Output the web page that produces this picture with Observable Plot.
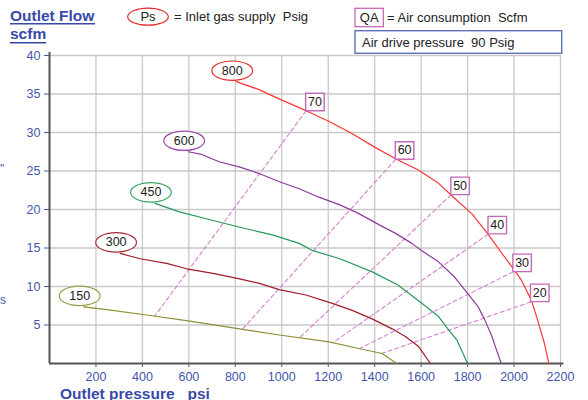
<!DOCTYPE html>
<html><head><meta charset="utf-8">
<script src="https://cdn.jsdelivr.net/npm/d3@7"></script>
<script src="https://cdn.jsdelivr.net/npm/@observablehq/plot@0.6"></script>
<style>body{margin:0;background:#fff}#chart{width:588px;height:400px}</style>
</head><body><div id="chart"></div>
<script>
// ---- data ----
const pressures = [150, 300, 450, 600, 800]; // inlet gas supply Ps, psig
const curve150 = [[147,7.35],[247,7.0],[418,6.3],[604,5.5],[818,4.5],[989,3.7],[1204,2.8],[1332,1.95],[1432,1.3],[1495,0]];
const curve300 = [[304,14.3],[390,13.6],[504,13.0],[590,12.3],[704,11.7],[818,11.0],[904,10.4],[989,9.6],[1104,8.9],[1218,7.8],[1303,6.9],[1389,5.8],[1475,4.5],[1532,3.5],[1589,2.2],[1640,0]];
const curve450 = [[454,20.8],[560,19.7],[675,18.8],[820,17.7],[960,16.7],[1075,15.6],[1130,14.7],[1250,13.6],[1390,11.9],[1500,10.2],[1600,7.9],[1675,6.1],[1720,4.3],[1755,3.0],[1800,0]];
const curve600 = [[597,27.5],[650,27.2],[730,26.2],[820,25.5],[900,24.7],[990,23.6],[1075,22.7],[1160,21.6],[1250,20.6],[1330,19.5],[1420,18.0],[1490,16.9],[1560,15.6],[1600,14.7],[1675,13.2],[1745,11.2],[1800,9.1],[1845,7.4],[1875,5.6],[1905,3.5],[1925,1.7],[1945,0]];
const curve800 = [[804,36.6],[900,35.6],[1000,34.2],[1100,32.9],[1200,31.5],[1300,29.9],[1400,28.1],[1490,26.6],[1590,25.1],[1675,23.4],[1750,21.3],[1820,19.4],[1890,16.7],[1960,13.8],[2000,12.2],[2030,10.9],[2075,8.2],[2100,5.8],[2130,2.7],[2150,0]];
const qaValues = [70, 60, 50, 40, 30, 20]; // air consumption QA, scfm
const qa70 = [[1104,32.8],[454,6.2]];
const qa60 = [[1490,26.5],[832,4.5]];
const qa50 = [[1729,21.9],[1075,3.3]];
const qa40 = [[1889,16.8],[1220,2.7]];
const qa30 = [[1996,11.9],[1335,1.95]];
const qa20 = [[2072,8.0],[1430,1.3]];
const xTicks = [200,400,600,800,1000,1200,1400,1600,1800,2000,2200];
const yTicks = [5,10,15,20,25,30,35,40];

// ---- tables ----
const curves = [curve150, curve300, curve450, curve600, curve800];
const curveRows = curves.flatMap((c, i) => c.map(([x, y]) => ({ps: pressures[i], x, y})));
const curveStarts = curves.map((c, i) => ({ps: pressures[i], x: c[0][0], y: c[0][1]}));
const qaLines = [qa70, qa60, qa50, qa40, qa30, qa20];
const qaRows = qaLines.flatMap((c, i) => c.map(([x, y]) => ({qa: qaValues[i], x, y})));
const qaStarts = qaLines.map((c, i) => ({qa: qaValues[i], x: c[0][0], y: c[0][1]}));

// ---- styles ----
const lineColors = ["#8f8f36", "#a01c28", "#25995a", "#8e3a9e", "#ff3535"];
const ringColors = ["#9a9a48", "#a52a36", "#3aa568", "#9a4aaa", "#e82828"];
const blue = "#4455aa";
const titleBlue = "#3949a8";
const font = "'Liberation Sans', Arial, sans-serif";

const ellipseSym = {draw(ctx, size) {
  const r = Math.sqrt(size / Math.PI), rx = r * 2.1, ry = r, k = 0.5523;
  ctx.moveTo(rx, 0);
  ctx.bezierCurveTo(rx, ry * k, rx * k, ry, 0, ry);
  ctx.bezierCurveTo(-rx * k, ry, -rx, ry * k, -rx, 0);
  ctx.bezierCurveTo(-rx, -ry * k, -rx * k, -ry, 0, -ry);
  ctx.bezierCurveTo(rx * k, -ry, rx, -ry * k, rx, 0);
  ctx.closePath();
}};
const boxSym = {draw(ctx, size) {
  ctx.rect(-9.25, -8.75, 18.5, 17.5);
}};

const plot = Plot.plot({
  width: 588, height: 400,
  marginLeft: 49, marginRight: 28, marginTop: 55, marginBottom: 37,
  style: {fontFamily: font, background: "#fff"},
  x: {domain: [0, 2200]},
  y: {domain: [0, 40]},
  color: {domain: pressures, range: lineColors},
  marks: [
    Plot.gridX(xTicks, {stroke: "#c9c9c9", strokeOpacity: 1, strokeWidth: 1.3}),
    Plot.gridY(yTicks, {stroke: "#c9c9c9", strokeOpacity: 1, strokeWidth: 1.3}),
    Plot.axisX(xTicks, {tickSize: 4, tickPadding: 5, color: blue, fontSize: 12.5, label: null, tickFormat: (d) => String(d)}),
    Plot.axisY(yTicks, {tickSize: 5, tickPadding: 4, color: blue, fontSize: 12.5, label: null, tickFormat: (d) => String(d)}),
    Plot.ruleX([0], {y1: 0, y2: 40.4, stroke: "#555", strokeWidth: 2}),
    Plot.ruleY([0], {x1: 0, x2: 2215, stroke: "#555", strokeWidth: 2.2}),
    Plot.line(qaRows, {x: "x", y: "y", z: "qa", stroke: "#d67fcf", strokeWidth: 1.1, strokeDasharray: "4,3"}),
    Plot.line(curveRows, {x: "x", y: "y", z: "ps", stroke: "ps", strokeWidth: 1.2}),
    Plot.dot(curveStarts, {x: "x", y: "y", dx: -4, dy: -11, r: 9.7, symbol: ellipseSym, fill: "white",
      stroke: (d) => ringColors[pressures.indexOf(d.ps)], strokeWidth: 1.2}),
    Plot.text(curveStarts, {x: "x", y: "y", dx: -4, dy: -11, text: (d) => String(d.ps), fontSize: 12.5, fill: "#222"}),
    Plot.dot(qaStarts, {x: "x", y: "y", dx: 9, dy: -9, r: 9, symbol: boxSym, fill: "white", stroke: "#c468b8", strokeWidth: 1.4}),
    Plot.text(qaStarts, {x: "x", y: "y", dx: 9, dy: -9, text: (d) => String(d.qa), fontSize: 12.5, fill: "#222"})
  ]
});
document.getElementById("chart").appendChild(plot);

// ---- titles & legend ----
const svg = d3.select(plot);
const g = svg.append("g").attr("font-family", font).attr("text-anchor", "start");
g.append("text").attr("x", 10).attr("y", 20.5).attr("font-size", 15.5).attr("font-weight", "bold").attr("fill", titleBlue).text("Outlet Flow");
g.append("line").attr("x1", 10).attr("x2", 95).attr("y1", 23.8).attr("y2", 23.8).attr("stroke", titleBlue).attr("stroke-width", 1.5);
g.append("text").attr("x", 10).attr("y", 39).attr("font-size", 15.5).attr("font-weight", "bold").attr("fill", titleBlue).text("scfm");
g.append("line").attr("x1", 10).attr("x2", 46).attr("y1", 42.8).attr("y2", 42.8).attr("stroke", titleBlue).attr("stroke-width", 1.5);
g.append("text").attr("x", 60).attr("y", 398.5).attr("font-size", 15.5).attr("font-weight", "bold").attr("fill", titleBlue).style("white-space", "pre").text("Outlet pressure   psi");

// legend 1: Ps
g.append("ellipse").attr("cx", 148).attr("cy", 16.7).attr("rx", 20.3).attr("ry", 8.5).attr("fill", "white").attr("stroke", "#e82828").attr("stroke-width", 1.2);
g.append("text").attr("x", 148).attr("y", 21.2).attr("text-anchor", "middle").attr("font-size", 13).attr("fill", "#222").text("Ps");
g.append("text").attr("x", 174).attr("y", 21.2).attr("font-size", 13).attr("fill", "#222").style("white-space", "pre").text("= Inlet gas supply  Psig");
// legend 2: QA
g.append("rect").attr("x", 355).attr("y", 8.3).attr("width", 28.3).attr("height", 18.4).attr("fill", "white").attr("stroke", "#c468b8").attr("stroke-width", 1.3);
g.append("text").attr("x", 369.2).attr("y", 22).attr("text-anchor", "middle").attr("font-size", 13).attr("fill", "#222").text("QA");
g.append("text").attr("x", 387).attr("y", 22).attr("font-size", 13).attr("fill", "#222").style("white-space", "pre").text("= Air consumption  Scfm");
// legend 3
g.append("rect").attr("x", 355).attr("y", 30.7).attr("width", 206.7).attr("height", 22.6).attr("fill", "white").attr("stroke", "#6070b8").attr("stroke-width", 1.4);
g.append("text").attr("x", 362).attr("y", 46.8).attr("font-size", 13).attr("fill", "#222").style("white-space", "pre").text("Air drive pressure  90 Psig");
// stray fragments at left edge
g.append("text").attr("x", 0).attr("y", 173).attr("font-size", 12).attr("fill", blue).text("\"");
g.append("text").attr("x", 0).attr("y", 303.5).attr("font-size", 12).attr("fill", blue).text("s");
</script>
</body></html>
